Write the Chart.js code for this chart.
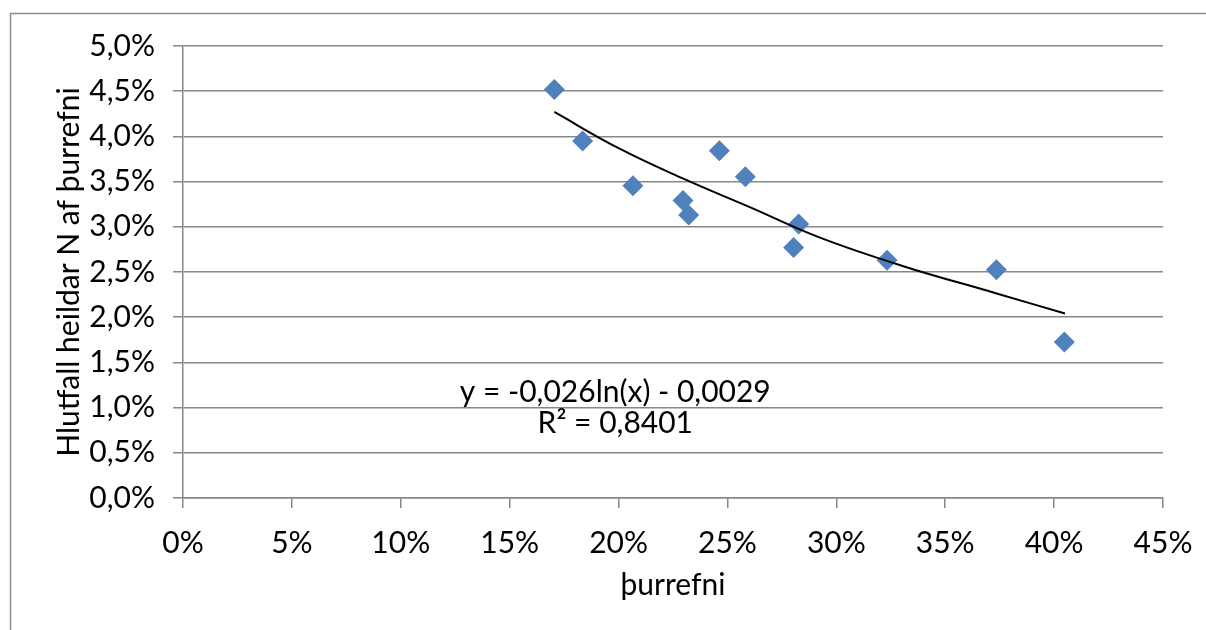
<!DOCTYPE html>
<html>
<head>
<meta charset="utf-8">
<script src="https://cdn.jsdelivr.net/npm/chart.js@4.4.0/dist/chart.umd.min.js"></script>
<style>
  html, body { margin: 0; padding: 0; background: #fff; }
</style>
</head>
<body>
<canvas id="chart" width="1206" height="630"></canvas>
<script>
// measured points (percent)
const pointX = [17.05, 18.35, 20.66, 22.96, 23.22, 24.63, 25.82, 28.04, 28.27, 32.33, 37.35, 40.47];
const pointY = [4.52, 3.95, 3.455, 3.29, 3.13, 3.84, 3.555, 2.77, 3.03, 2.63, 2.525, 1.726];

// trend line
const trendX = [17.05, 20, 23, 26, 29.25, 33, 37.4, 40.5];
const trendY = [4.27, 3.87, 3.53, 3.22, 2.88, 2.57, 2.26, 2.04];

const xTicks = [0, 5, 10, 15, 20, 25, 30, 35, 40, 45];
const yTicks = [0, 0.5, 1, 1.5, 2, 2.5, 3, 3.5, 4, 4.5, 5];

const xTitle = 'þurrefni';
const yTitle = 'Hlutfall heildar N af þurrefni';
const equationText = 'y = -0,026ln(x) - 0,0029';
const r2Text = 'R² = 0,8401';

const FONT = 'Lato';
const GRID = '#878787';

const scatter = pointX.map((x, i) => ({ x: x, y: pointY[i] }));
const trend = trendX.map((x, i) => ({ x: x, y: trendY[i] }));

const extras = {
  id: 'extras',
  afterDraw(chart) {
    const ctx = chart.ctx;
    const xs = chart.scales.x;
    const ys = chart.scales.y;
    ctx.save();
    // outer frame
    ctx.strokeStyle = '#8c8c8c';
    ctx.lineWidth = 1.5;
    ctx.beginPath();
    ctx.moveTo(10.5, 640);
    ctx.lineTo(10.5, 13.5);
    ctx.lineTo(1220, 13.5);
    ctx.stroke();
    // equation label
    ctx.fillStyle = '#000';
    ctx.font = '30px ' + FONT;
    ctx.textAlign = 'center';
    ctx.textBaseline = 'middle';
    const cx = xs.getPixelForValue(19.85);
    ctx.fillText(equationText, cx, ys.getPixelForValue(1.17));
    ctx.fillText(r2Text, cx, ys.getPixelForValue(0.83));
    ctx.restore();
  }
};

new Chart(document.getElementById('chart'), {
  type: 'scatter',
  data: {
    datasets: [
      {
        label: 'trend',
        type: 'line',
        data: trend,
        borderColor: '#000',
        borderWidth: 2,
        pointRadius: 0,
        tension: 0.4,
        fill: false,
        order: 1
      },
      {
        label: 'points',
        data: scatter,
        pointStyle: 'rectRot',
        pointRadius: 10.5,
        pointHoverRadius: 10.5,
        backgroundColor: '#4F81BD',
        borderColor: '#4F81BD',
        borderWidth: 0,
        order: 2
      }
    ]
  },
  options: {
    responsive: false,
    animation: false,
    layout: { padding: { top: 46, right: 43, left: 0, bottom: 0 } },
    plugins: {
      legend: { display: false },
      tooltip: { enabled: false }
    },
    scales: {
      x: {
        type: 'linear',
        min: 0,
        max: 45,
        afterFit(s) {
          s.height = 132;
          s.paddingLeft = 0;
          s.paddingRight = 0;
        },
        afterBuildTicks(s) { s.ticks = xTicks.map(v => ({ value: v })); },
        ticks: {
          color: '#000',
          padding: 17,
          maxRotation: 0,
          font: { family: FONT, size: 30 },
          callback: v => v + '%'
        },
        grid: {
          drawOnChartArea: false,
          drawTicks: true,
          tickLength: 10,
          tickColor: GRID,
          lineWidth: 1.5
        },
        border: { color: GRID, width: 1.5 },
        title: {
          display: true,
          text: xTitle,
          color: '#000',
          font: { family: FONT, size: 30 },
          padding: { top: 0, bottom: 27 }
        }
      },
      y: {
        type: 'linear',
        min: 0,
        max: 5,
        afterFit(s) {
          s.width = 183;
          s.paddingTop = 0;
          s.paddingBottom = 0;
        },
        afterBuildTicks(s) { s.ticks = yTicks.map(v => ({ value: v })); },
        ticks: {
          color: '#000',
          padding: 18,
          font: { family: FONT, size: 30 },
          callback: v => v.toFixed(1).replace('.', ',') + '%'
        },
        grid: {
          color: GRID,
          lineWidth: 1.5,
          drawTicks: true,
          tickLength: 10,
          tickColor: GRID
        },
        border: { color: GRID, width: 1.5 },
        title: {
          display: true,
          text: yTitle,
          color: '#000',
          font: { family: FONT, size: 30 },
          padding: { top: 51, bottom: 0 }
        }
      }
    }
  },
  plugins: [extras]
});
</script>
</body>
</html>
